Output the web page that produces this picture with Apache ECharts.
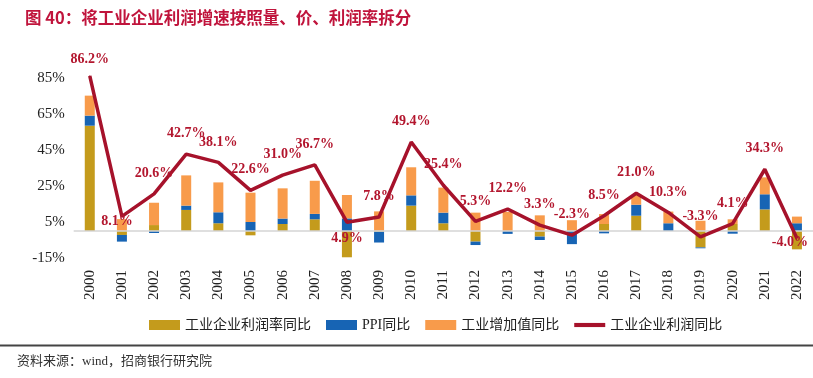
<!DOCTYPE html>
<html>
<head>
<meta charset="utf-8">
<script src="https://cdn.jsdelivr.net/npm/echarts@6/dist/echarts.min.js"></script>
<style>
html,body{margin:0;padding:0;background:#fff;}
#c{width:813px;height:378px;}
</style>
</head>
<body>
<div id="c"></div>
<script>
const years = ['2000','2001','2002','2003','2004','2005','2006','2007','2008','2009','2010','2011','2012','2013','2014','2015','2016','2017','2018','2019','2020','2021','2022'];
const profitRate = [58.5, -2.2, 3.3, 11.7, 4.3, -2.4, 3.9, 6.5, -14.6, -0.4, 14.1, 4.3, -5.9, 0, -3.1, 0, 3.9, 8.5, 0, -9.1, 3.9, 12.0, -10.2];
const ppi = [5.6, -3.7, -1.1, 2.4, 6.1, 5.0, 3.0, 3.0, 7.0, -6.0, 5.7, 5.9, -1.9, -1.6, -1.9, -7.3, -1.3, 6.1, 4.3, -0.5, -1.5, 8.4, 4.3];
const valueAdd = [11.1, 6.6, 12.4, 16.8, 16.6, 16.3, 16.8, 18.4, 13.0, 10.9, 15.6, 13.9, 10.2, 10.6, 8.7, 6.0, 5.5, 5.4, 6.5, 5.7, 2.6, 9.4, 3.7];
const profit = [86.2, 8.1, 20.6, 42.7, 38.1, 22.6, 31.0, 36.7, 4.9, 7.8, 49.4, 25.4, 5.3, 12.2, 3.3, -2.3, 8.5, 21.0, 10.3, -3.3, 4.1, 34.3, -4.0];
const yTicks = [-15, 5, 25, 45, 65, 85];
const seriesNames = ['工业企业利润率同比', 'PPI同比', '工业增加值同比', '工业企业利润同比'];

const serif = '"Liberation Serif","Times New Roman",serif';
const cjk = '"Liberation Serif","Noto Sans CJK SC",serif';

// special label placements (by category index)
const labelTweaks = {
  0: {offset: [0, 4]},
  1: {offset: [-5, 25]},
  8: {position: 'bottom', distance: 9},
  22: {offset: [-7, 25]}
};

const lineData = profit.map((v, i) => {
  const d = {value: v};
  if (labelTweaks[i]) d.label = labelTweaks[i];
  return d;
});

const chart = echarts.init(document.getElementById('c'), null, {renderer: 'canvas'});
chart.setOption({
  animation: false,
  backgroundColor: '#fff',
  title: {
    text: '图 40：将工业企业利润增速按照量、价、利润率拆分',
    left: 20, top: 4,
    textStyle: {color: '#c0143c', fontSize: 16.5, fontWeight: 'bold', fontFamily: '"Noto Sans CJK SC",sans-serif'}
  },
  grid: {left: 73.7, right: -11.3, top: 60, bottom: 111},
  legend: {
    left: 144, top: 313,
    itemWidth: 31, itemHeight: 10, itemGap: 15,
    textStyle: {fontSize: 14, color: '#222', fontFamily: cjk},
    data: [
      {name: seriesNames[0], icon: 'rect'},
      {name: seriesNames[1], icon: 'rect'},
      {name: seriesNames[2], icon: 'rect'},
      {name: seriesNames[3], icon: 'path://M0,0 H30 V4 H0 Z'}
    ]
  },
  xAxis: {
    type: 'category',
    data: years,
    axisLine: {show: false},
    axisTick: {show: false},
    axisLabel: {rotate: 90, margin: 3, fontSize: 15, color: '#222', fontFamily: serif, interval: 0}
  },
  yAxis: {
    type: 'value',
    min: -20, max: 95,
    splitLine: {show: false},
    axisLine: {show: false},
    axisTick: {show: false},
    axisLabel: {
      customValues: yTicks,
      formatter: v => v + '%',
      fontSize: 15, color: '#222', fontFamily: serif, margin: 9
    }
  },
  series: [
    {
      name: seriesNames[0], type: 'bar', stack: 'a', barWidth: 10,
      itemStyle: {color: '#c49b1c'}, data: profitRate,
      markLine: {
        silent: true, symbol: 'none', label: {show: false},
        lineStyle: {color: '#d4d4d4', width: 1.5, type: 'solid'},
        data: [{yAxis: 0}]
      }
    },
    {name: seriesNames[1], type: 'bar', stack: 'a', barWidth: 10, itemStyle: {color: '#1764b4'}, data: ppi},
    {name: seriesNames[2], type: 'bar', stack: 'a', barWidth: 10, itemStyle: {color: '#f89b4b'}, data: valueAdd},
    {
      name: seriesNames[3], type: 'line', symbol: 'circle', symbolSize: 1, showSymbol: true,
      lineStyle: {color: '#a6122b', width: 3.5},
      itemStyle: {color: '#a6122b'},
      z: 5,
      label: {
        show: true, position: 'top', distance: 13,
        formatter: p => p.value.toFixed(1) + '%',
        color: '#b3162e', fontSize: 14, fontWeight: 'bold', fontFamily: serif
      },
      data: lineData
    }
  ],
  graphic: [
    {type: 'line', shape: {x1: 0, y1: 345.5, x2: 813, y2: 345.5}, style: {stroke: '#444', lineWidth: 2}},
    {type: 'text', left: 17, top: 355, style: {text: '资料来源：wind，招商银行研究院', fill: '#333', font: '13px "Liberation Serif","Noto Sans CJK SC",serif'}}
  ]
});
</script>
</body>
</html>
